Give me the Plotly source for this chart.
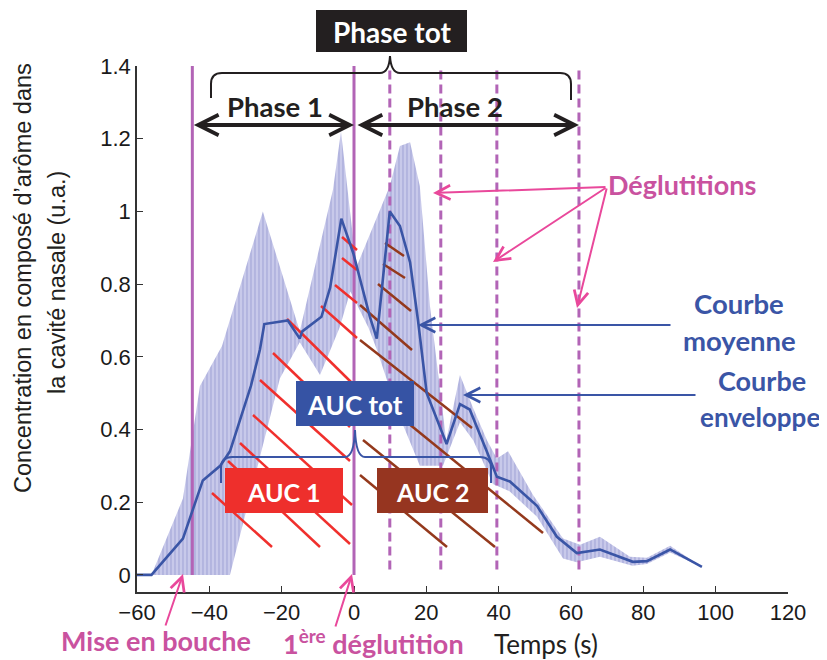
import plotly.graph_objects as go

# ---- données ----
temps_moy = [-60, -56, -47.3, -41.8, -37, -34.3, -28.5, -26, -24.8, -18.3, -15, -14.3, -9, -6.6,
             -3.5, -0.2, 4.4, 6.3, 9.9, 12.7, 15.5, 17.7, 20.1, 25.6, 29.3, 32, 36.7, 39.5,
             43.1, 50.6, 56.1, 61.6, 68, 77.1, 81, 87.4, 96.2]
conc_moy = [0, 0, 0.10, 0.26, 0.30, 0.34, 0.52, 0.62, 0.69, 0.70, 0.65, 0.67, 0.71, 0.79,
            0.98, 0.885, 0.71, 0.65, 1.0, 0.96, 0.86, 0.70, 0.50, 0.36, 0.47, 0.455, 0.34, 0.27,
            0.257, 0.19, 0.105, 0.06, 0.07, 0.036, 0.038, 0.07, 0.022]

temps_haut = [-56, -47.3, -42.6, -36.5, -25.2, -15, -5.8, -3.6, -0.3, 0.8, 9.9, 12.7, 15.5,
              18.2, 21, 25.5, 29.3, 32.9, 36.8, 39.5, 42.6, 49.5, 57.8, 62.5, 68, 76.3, 81,
              87.4, 96.2]
conc_haut = [0, 0.21, 0.52, 0.63, 1.0, 0.67, 1.06, 1.22, 0.93, 0.85, 1.07, 1.18, 1.19,
             1.07, 0.74, 0.37, 0.55, 0.46, 0.37, 0.32, 0.34, 0.22, 0.10, 0.083, 0.105, 0.05, 0.047,
             0.08, 0.022]

temps_bas = [-56, -34.3, -20.5, -15, -9.4, -4, -1, 4, 6.3, 12, 18.2, 24.6, 29.3, 33, 38.4,
             43, 50.6, 57.8, 61.6, 68, 77, 81, 87.4, 96.2]
conc_bas = [0, 0, 0.54, 0.64, 0.55, 0.68, 0.78, 0.68, 0.62, 0.45, 0.30, 0.30, 0.42, 0.37, 0.25,
            0.23, 0.16, 0.045, 0.035, 0.05, 0.025, 0.03, 0.062, 0.022]

t_mise_en_bouche = -44.7
t_deglutitions = [0, 9.9, 24.0, 39.5, 62.2]

x_ticks = [-60, -40, -20, 0, 20, 40, 60, 80, 100, 120]
y_ticks = [0, 0.2, 0.4, 0.6, 0.8, 1.0, 1.2, 1.4]
y_tick_labels = ['0', '0.2', '0.4', '0.6', '0.8', '1', '1.2', '1.4']

# ---- géométrie (pixels de la page ; le body HTML ajoute 8 px de marge) ----
BODY = 8
L, T, W, H = 137, 66, 651, 526
XR = [-60, 120]
YR = [-0.047, 1.40]


def px2x(px):
    return XR[0] + (px - L) / W * (XR[1] - XR[0])


def py2y(py):
    return YR[1] - (py - T) / H * (YR[1] - YR[0])


def x2px(x):
    return L + (x - XR[0]) / (XR[1] - XR[0]) * W


def pxp(px):
    return (px - L) / W


def pyp(py):
    return (T + H - py) / H


# hachures dessinées à la main (pixels)
hachures_rouges = [((342, 237), (357, 250)), ((342, 258), (357, 270)), ((335, 285), (357, 303)),
                   ((321, 306), (357, 338)), ((287, 319), (351, 382)), ((273, 353), (350, 427)),
                   ((260, 380), (350, 461)), ((253, 415), (352, 505)), ((240, 443), (350, 544)),
                   ((228, 461), (320, 547)), ((212, 493), (272, 547))]
hachures_marron = [((385, 243), (404, 256)), ((383, 264), (405, 278)), ((378, 284), (411, 311)),
                   ((360, 305), (412, 350)), ((360, 340), (472, 428)), ((360, 384), (543, 533)),
                   ((363, 440), (495, 547)), ((360, 475), (447, 547))]

VIOLET = '#b264b6'
ROSE = '#e9489b'
ROSE_TXT = '#c9529f'
BLEU = '#3a55a6'
NOIR = '#231f20'
TXT_FONT = 'Lato, Open Sans, sans-serif'
AX_FONT = 'Liberation Sans, Arial, sans-serif'

fig = go.Figure()

# enveloppe
fig.add_trace(go.Scatter(
    x=temps_haut + temps_bas[::-1], y=conc_haut + conc_bas[::-1],
    mode='lines', fill='toself', line=dict(width=0), hoverinfo='skip',
    fillcolor='rgba(0,0,0,0)',
    fillpattern=dict(shape='|', bgcolor='#c8c9ea', fgcolor='#8f91cd', size=4, solidity=0.35)))

# lignes verticales : mise en bouche + 1ère déglutition (pleines), autres déglutitions (pointillés)
vx, vy = [], []
for t in [t_mise_en_bouche, t_deglutitions[0]]:
    vx += [t, t, None]
    vy += [0, 1.4, None]
fig.add_trace(go.Scatter(x=vx, y=vy, mode='lines', line=dict(color=VIOLET, width=3), hoverinfo='skip'))
dx_, dy_ = [], []
for t in t_deglutitions[1:]:
    dx_ += [t, t, None]
    dy_ += [0.015, 1.4, None]
fig.add_trace(go.Scatter(x=dx_, y=dy_, mode='lines', line=dict(color=VIOLET, width=3, dash='9px,5px'),
                         hoverinfo='skip'))

# hachures AUC
for segs, col in [(hachures_rouges, '#f0302d'), (hachures_marron, '#94391c')]:
    hx, hy = [], []
    for (a, b) in segs:
        hx += [px2x(a[0]), px2x(b[0]), None]
        hy += [py2y(a[1]), py2y(b[1]), None]
    fig.add_trace(go.Scatter(x=hx, y=hy, mode='lines', line=dict(color=col, width=2.5), hoverinfo='skip'))

# courbe moyenne
fig.add_trace(go.Scatter(x=temps_moy, y=conc_moy, mode='lines', line=dict(color=BLEU, width=2.6),
                         hoverinfo='skip'))


def path_px(cmds):
    out = []
    for c in cmds:
        op, pts = c[0], c[1:]
        coords = ' '.join('%.5f,%.5f' % (pxp(pts[i]), pyp(pts[i + 1])) for i in range(0, len(pts), 2))
        out.append(op + coords)
    return ' '.join(out)


shapes = []
# accolade "Phase tot"
shapes.append(dict(type='path', xref='paper', yref='paper', line=dict(color=NOIR, width=2),
                   path=path_px([('M', 211, 98), ('L', 211, 84), ('Q', 211, 73, 222, 73), ('L', 380, 73),
                                 ('Q', 389, 73, 390, 56), ('Q', 391, 73, 400, 73), ('L', 560, 73),
                                 ('Q', 571, 73, 571, 84), ('L', 571, 100)])))
# accolade "AUC tot"
shapes.append(dict(type='path', xref='paper', yref='paper', line=dict(color=BLEU, width=2),
                   path=path_px([('M', 221, 483), ('L', 221, 468), ('Q', 221, 457, 232, 457), ('L', 345, 457),
                                 ('Q', 354, 457, 355, 430), ('Q', 356, 457, 365, 457), ('L', 480, 457),
                                 ('Q', 491, 457, 491, 468), ('L', 491, 483)])))

boites = [((316, 10, 467, 52), NOIR, 'Phase tot', 28),
          ((296, 381, 414, 426), '#3653a4', 'AUC tot', 26),
          ((225, 468, 343, 513), '#ee2f2c', 'AUC 1', 25),
          ((377, 468, 488, 513), '#963520', 'AUC 2', 25)]
annotations = []
for (x0, y0, x1, y1), col, txt, fs in boites:
    shapes.append(dict(type='rect', xref='paper', yref='paper', x0=pxp(x0), x1=pxp(x1), y0=pyp(y1), y1=pyp(y0),
                       fillcolor=col, line=dict(width=0)))
    annotations.append(dict(xref='paper', yref='paper', x=pxp((x0 + x1) / 2), y=pyp((y0 + y1) / 2 + 1),
                            text='<b>%s</b>' % txt, showarrow=False, xanchor='center', yanchor='middle',
                            font=dict(family=TXT_FONT, size=fs, color='white')))


def texte(cx, cy, txt, color, size, bold=True, family=TXT_FONT, angle=0):
    annotations.append(dict(xref='paper', yref='paper', x=pxp(cx), y=pyp(cy),
                            text=('<b>%s</b>' % txt) if bold else txt, showarrow=False,
                            xanchor='center', yanchor='middle', textangle=angle,
                            font=dict(family=family, size=size, color=color)))


def fleche(tail, tip, color, width, size=1.0, both=False):
    a = dict(xref='paper', yref='paper', x=pxp(tip[0]), y=pyp(tip[1]),
             axref='pixel', ayref='pixel', ax=tail[0] - tip[0], ay=tail[1] - tip[1],
             text='', showarrow=True, arrowhead=5, arrowsize=size, arrowwidth=width,
             arrowcolor=color, standoff=0, startstandoff=0)
    if both:
        a.update(arrowside='end+start', startarrowhead=5, startarrowsize=size)
    annotations.append(a)


texte(275, 106, 'Phase 1', NOIR, 27.5)
texte(455, 107, 'Phase 2', NOIR, 27.5)
texte(682, 184, 'Déglutitions', ROSE_TXT, 27)
texte(739, 303, 'Courbe', BLEU, 27.5)
texte(739, 340, 'moyenne', BLEU, 27.5)
texte(762, 380, 'Courbe', BLEU, 27)
texte(760, 417, 'enveloppe', BLEU, 26)
texte(156, 640, 'Mise en bouche', ROSE_TXT, 27)
texte(373, 642, '1<sup>ère</sup> déglutition', ROSE_TXT, 27)
texte(546, 644, 'Temps (s)', NOIR, 26, bold=False)
texte(23, 278, "Concentration en composé d’arôme dans", NOIR, 23.5, bold=False, family=AX_FONT, angle=-90)
texte(57, 283, 'la cavité nasale (u.a.)', NOIR, 23.5, bold=False, family=AX_FONT, angle=-90)

# flèches
y_phase = 125
fleche((x2px(t_mise_en_bouche), y_phase), (x2px(0), y_phase), NOIR, 4, 1.0, both=True)
fleche((x2px(0) + 2, y_phase), (x2px(t_deglutitions[-1]), y_phase), NOIR, 4, 1.0, both=True)
for tip in [(433, 193), (493, 262), (577, 308)]:
    fleche((607, 187), tip, ROSE, 2, 1.4)
fleche((672, 325), (418, 325), BLEU, 2, 1.4)
fleche((697, 395), (463, 395), BLEU, 2, 1.4)
fleche((165, 627), (183, 574), ROSE, 2, 1.4)
fleche((335, 628), (352, 574), ROSE, 2, 1.4)

axis_common = dict(showline=True, linecolor='#333333', linewidth=1.5, ticks='inside', ticklen=6,
                   tickcolor='#333333', tickwidth=1.2, showgrid=False, zeroline=False,
                   tickfont=dict(family=AX_FONT, size=22, color='#1a1a1a'), mirror=False)

FW, FH = 827 - BODY, 660 - BODY
fig.update_layout(
    width=FW, height=FH,
    margin=dict(l=L - BODY, r=FW - (L - BODY) - W, t=T - BODY, b=FH - (T - BODY) - H),
    paper_bgcolor='white', plot_bgcolor='white', showlegend=False,
    xaxis=dict(range=XR, tickvals=x_ticks, **axis_common),
    yaxis=dict(range=YR, tickvals=y_ticks, ticktext=y_tick_labels, **axis_common),
    shapes=shapes, annotations=annotations)

fig.write_html('out.html')
